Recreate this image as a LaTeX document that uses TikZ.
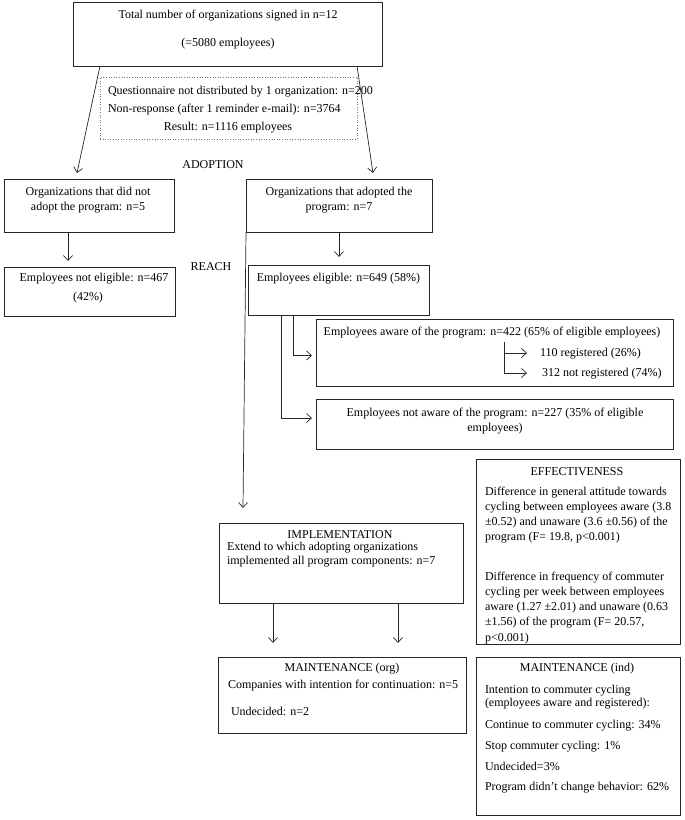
\documentclass[tikz,border=0pt]{standalone}
\usepackage{fontspec}
\setmainfont{Liberation Serif}
\usetikzlibrary{arrows.meta}
\tikzset{
  box/.style={draw=black!85, line width=0.7pt, inner sep=0pt, outer sep=0pt, anchor=north west},
  dbox/.style={draw=black!55, dotted, line width=0.6pt, inner sep=0pt, outer sep=0pt, anchor=north west},
  txt/.style={inner sep=0pt, outer sep=0pt, text height=8.5pt, text depth=2.5pt, font=\fontsize{12}{15}\selectfont},
  ltxt/.style={txt, anchor=west},
  arr/.style={draw=black!85, line width=0.7pt, -{Straight Barb[length=5pt,width=9pt]}},
}
\begin{document}
\begin{tikzpicture}[x=1pt,y=-1pt]
\useasboundingbox (0,0) rectangle (685,820);
% boxes
\node[box, minimum width=309pt, minimum height=64pt] (top) at (73,2) {};
\node[dbox, minimum width=257pt, minimum height=62pt] (dot) at (100,77) {};
\node[box, minimum width=170pt, minimum height=53pt] (nadopt) at (4,179) {};
\node[box, minimum width=186pt, minimum height=53pt] (adopt) at (246,179) {};
\node[box, minimum width=171pt, minimum height=49pt] (nelig) at (4,267) {};
\node[box, minimum width=181pt, minimum height=50pt] (elig) at (248,265) {};
\node[box, minimum width=357pt, minimum height=67pt] (aware) at (316,319) {};
\node[box, minimum width=357pt, minimum height=50pt] (naware) at (316,399) {};
\node[box, minimum width=204pt, minimum height=185pt] (eff) at (476,459) {};
\node[box, minimum width=244pt, minimum height=80pt] (impl) at (219,523) {};
\node[box, minimum width=248pt, minimum height=76pt] (morg) at (218,657) {};
\node[box, minimum width=204pt, minimum height=158pt] (mind) at (476,657) {};
% texts
\node[txt] (top1) at (228,15) {Total number of organizations signed in n=12};
\node[txt] (top2) at (228,43) {(=5080 employees)};
\node[ltxt] (dot1) at (108,91) {Questionnaire not distributed by 1 organization: n=200};
\node[ltxt] (dot2) at (108,109) {Non-response (after 1 reminder e-mail): n=3764};
\node[txt] (dot3) at (228,127) {Result: n=1116 employees};
\node[txt] (adoptlbl) at (213,165) {ADOPTION};
\node[txt] (reachlbl) at (211,267) {REACH};
\node[txt] (nadopt1) at (88,192) {Organizations that did not};
\node[txt] (nadopt2) at (88,207) {adopt the program: n=5};
\node[txt] (adopt1) at (339,192) {Organizations that adopted the};
\node[txt] (adopt2) at (339,207) {program: n=7};
\node[txt] (nelig1) at (94,278) {Employees not eligible: n=467};
\node[txt] (nelig2) at (88,297) {(42\%)};
\node[txt] (elig1) at (338.5,278) {Employees eligible: n=649 (58\%)};
\node[txt] (aware1) at (492,332) {Employees aware of the program: n=422 (65\% of eligible employees)};
\node[ltxt] (reg1) at (540,353) {110 registered (26\%)};
\node[ltxt] (reg2) at (542,373) {312 not registered (74\%)};
\node[txt] (naware1) at (495,413) {Employees not aware of the program: n=227 (35\% of eligible};
\node[txt] (naware2) at (495,428) {employees)};
\node[txt] (efft) at (577,472) {EFFECTIVENESS};
\node[ltxt] (eff1) at (485,492) {Difference in general attitude towards};
\node[ltxt] (eff2) at (485,507) {cycling between employees aware (3.8};
\node[ltxt] (eff3) at (485,522) {±0.52) and unaware (3.6 ±0.56) of the};
\node[ltxt] (eff4) at (485,537) {program (F= 19.8, p<0.001)};
\node[ltxt] (eff5) at (485,577) {Difference in frequency of commuter};
\node[ltxt] (eff6) at (485,592) {cycling per week between employees};
\node[ltxt] (eff7) at (485,607) {aware (1.27 ±2.01) and unaware (0.63};
\node[ltxt] (eff8) at (485,622) {±1.56) of the program (F= 20.57,};
\node[ltxt] (eff9) at (485,638) {p<0.001)};
\node[txt] (implt) at (340,535) {IMPLEMENTATION};
\node[ltxt] (impl1) at (227,547) {Extend to which adopting organizations};
\node[ltxt] (impl2) at (227,561) {implemented all program components: n=7};
\node[txt] (morgt) at (342,668) {MAINTENANCE (org)};
\node[ltxt] (morg1) at (228,685) {Companies with intention for continuation: n=5};
\node[ltxt] (morg2) at (231,712) {Undecided: n=2};
\node[txt] (mindt) at (577,668) {MAINTENANCE (ind)};
\node[ltxt] (mind1) at (485,690) {Intention to commuter cycling};
\node[ltxt] (mind2) at (485,703) {(employees aware and registered):};
\node[ltxt] (mind3) at (485,725) {Continue to commuter cycling: 34\%};
\node[ltxt] (mind4) at (485,746) {Stop commuter cycling: 1\%};
\node[ltxt] (mind5) at (485,767) {Undecided=3\%};
\node[ltxt] (mind6) at (485,787) {Program didn’t change behavior: 62\%};
% connectors
\draw[arr] ([xshift=27pt]top.south west) -- ([shift={(73pt,6pt)}]nadopt.north west);
\draw[arr] ([xshift=284pt]top.south west) -- ([shift={(127pt,6pt)}]adopt.north west);
\draw[arr] ([xshift=64pt]nadopt.south west) -- ([shift={(64pt,6pt)}]nelig.north west);
\draw[arr] ([xshift=93pt]adopt.south west) -- ([shift={(91pt,8pt)}]elig.north west);
\draw[arr] ([xshift=45pt]elig.south west) |- ([shift={(-4pt,-3pt)}]aware.west);
\draw[arr] ([xshift=33pt]elig.south west) |- ([shift={(-4pt,6pt)}]naware.west);
\coordinate (br) at (504,342);
\draw[arr] (br) |- ([xshift=-13pt]reg1.west);
\draw[arr] (br) |- ([xshift=-15pt]reg2.west);
\draw[arr] (adopt.south west) -- ([shift={(24pt,15pt)}]impl.north west);
\draw[arr] ([xshift=54pt]impl.south west) -- ([shift={(55pt,14pt)}]morg.north west);
\draw[arr] ([xshift=179pt]impl.south west) -- ([shift={(180pt,14pt)}]morg.north west);
\end{tikzpicture}
\end{document}
